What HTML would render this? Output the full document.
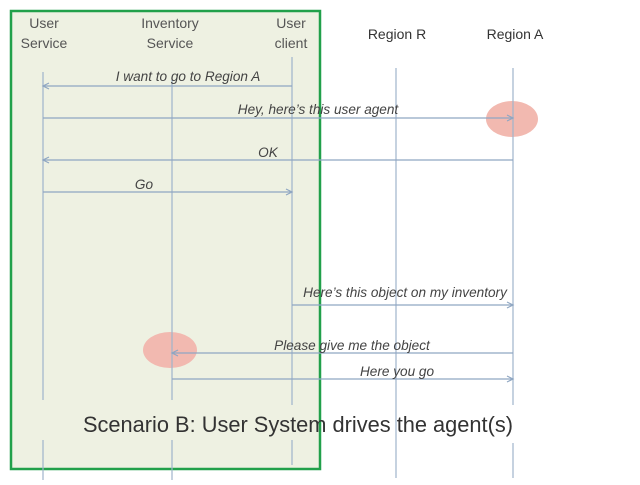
<!DOCTYPE html>
<html><head><style>
body{margin:0;width:640px;height:480px;background:#fff;overflow:hidden;font-family:"Liberation Sans",sans-serif}
</style></head><body>
<svg width="640" height="480" xmlns="http://www.w3.org/2000/svg" font-family="Liberation Sans, sans-serif">
<rect x="11" y="11" width="309" height="458" fill="#eef1e2" stroke="#21a04a" stroke-width="2.5"/>
<ellipse cx="512" cy="119" rx="26" ry="18" fill="#f2b9b0"/>
<ellipse cx="170" cy="350" rx="27" ry="18" fill="#f2b9b0"/>
<g stroke="#9fb3cc" stroke-width="1.2">
<line x1="43" y1="72" x2="43" y2="400"/><line x1="43" y1="440" x2="43" y2="480"/>
<line x1="172" y1="80" x2="172" y2="400"/><line x1="172" y1="440" x2="172" y2="480"/>
<line x1="292" y1="57" x2="292" y2="405"/><line x1="292" y1="440" x2="292" y2="465"/>
<line x1="396" y1="68" x2="396" y2="478"/>
<line x1="513" y1="68" x2="513" y2="405"/><line x1="513" y1="443" x2="513" y2="478"/>
</g>
<g stroke="#8fa6c2" stroke-width="1.2" fill="none">
<line x1="43" y1="86" x2="292" y2="86"/><polyline points="49,83 43,86 49,89"/>
<line x1="43" y1="118" x2="513" y2="118"/><polyline points="507,115 513,118 507,121"/>
<line x1="43" y1="160" x2="513" y2="160"/><polyline points="49,157 43,160 49,163"/>
<line x1="43" y1="192" x2="292" y2="192"/><polyline points="286,189 292,192 286,195"/>
<line x1="292" y1="305" x2="513" y2="305"/><polyline points="507,302 513,305 507,308"/>
<line x1="172" y1="353" x2="513" y2="353"/><polyline points="178,350 172,353 178,356"/>
<line x1="172" y1="379" x2="513" y2="379"/><polyline points="507,376 513,379 507,382"/>
</g>
<g fill="#555" font-size="14" text-anchor="middle">
<text x="44" y="28">User</text><text x="44" y="48">Service</text>
<text x="170" y="28">Inventory</text><text x="170" y="48">Service</text>
<text x="291" y="28">User</text><text x="291" y="48">client</text>
<text x="397" y="39" fill="#333">Region R</text><text x="515" y="39" fill="#333">Region A</text>
</g>
<g fill="#444" font-size="13.6" font-style="italic" text-anchor="middle">
<text x="188" y="81">I want to go to Region A</text>
<text x="318" y="114">Hey, here’s this user agent</text>
<text x="268" y="157">OK</text>
<text x="144" y="189">Go</text>
<text x="405" y="297">Here’s this object on my inventory</text>
<text x="352" y="350">Please give me the object</text>
<text x="397" y="376">Here you go</text>
</g>
<text x="298" y="432" font-size="21.8" fill="#333" text-anchor="middle">Scenario B: User System drives the agent(s)</text>
</svg>
</body></html>
